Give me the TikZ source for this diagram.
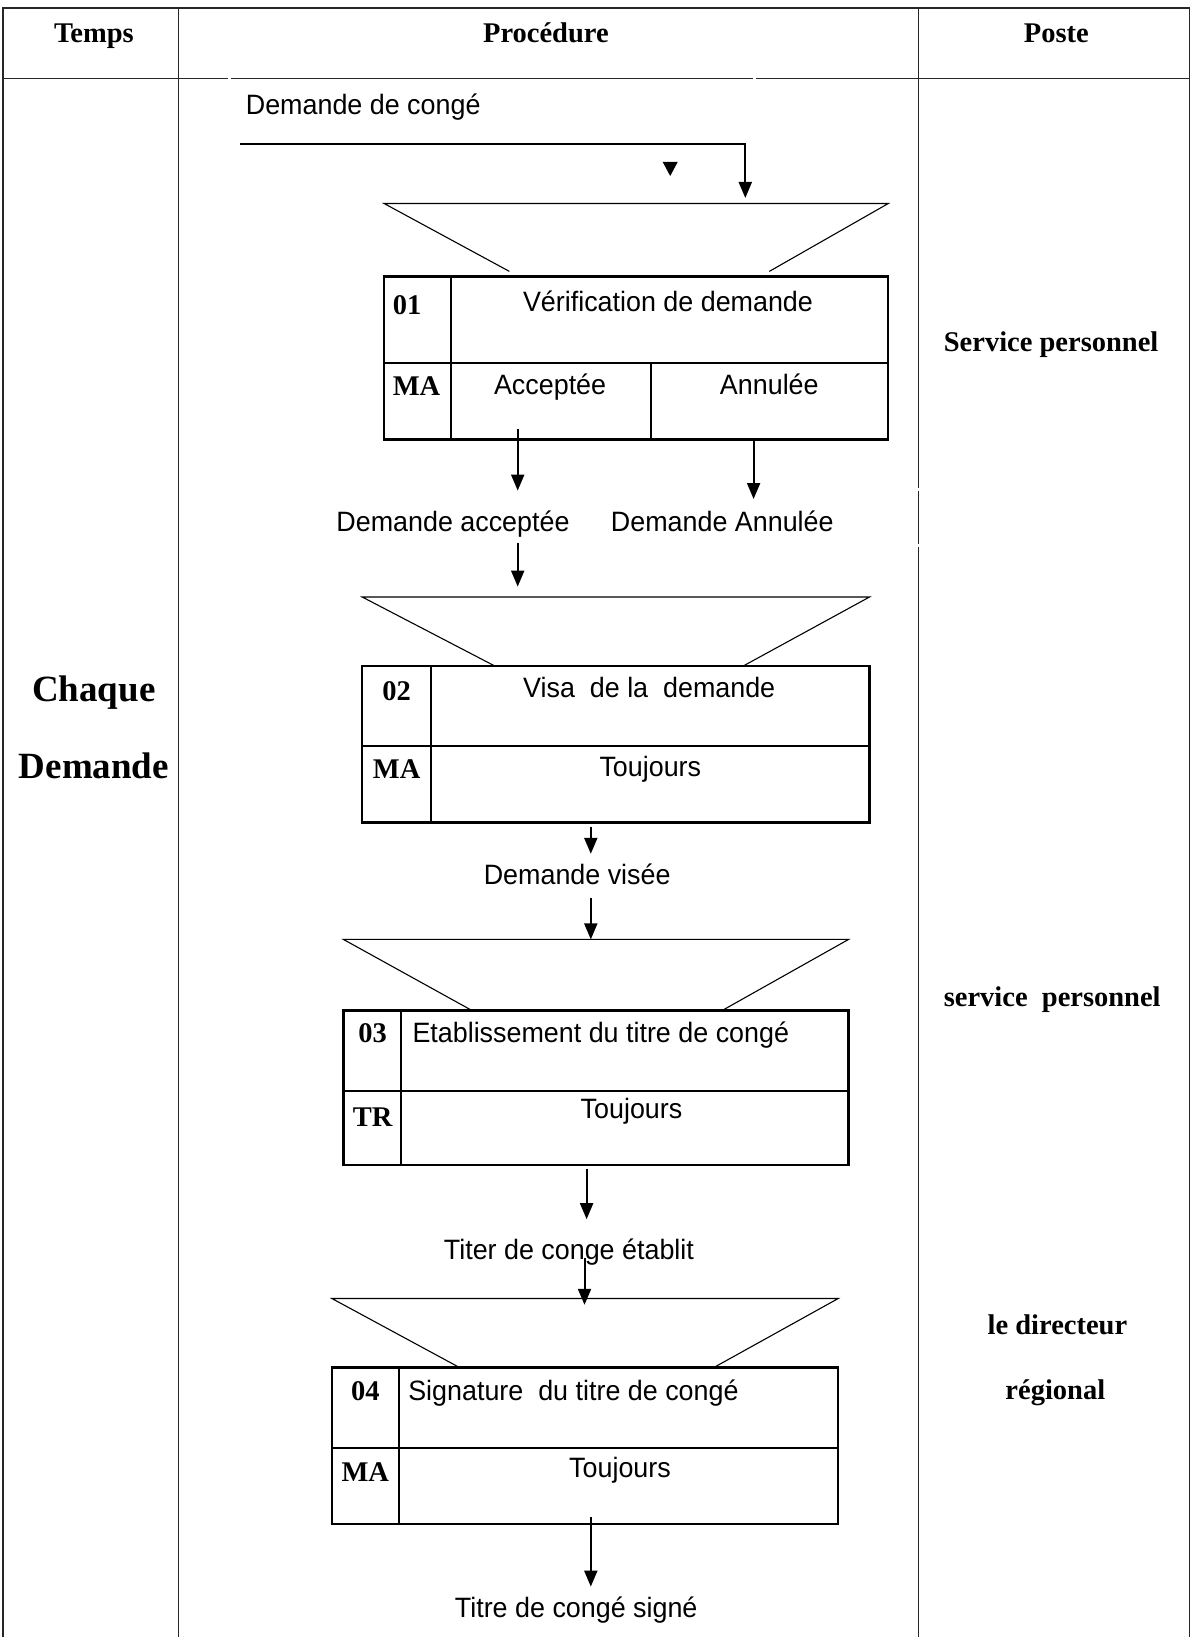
\documentclass[tikz,border=0pt]{standalone}
\usepackage{fontspec}
\setmainfont{Liberation Serif}
\setsansfont{Liberation Sans}[FakeStretch=0.96]
\usetikzlibrary{arrows.meta}

\tikzset{
  hd/.style={font=\fontsize{28.5}{34}\selectfont\bfseries, inner sep=0pt, anchor=base},
  numcell/.style={font=\fontsize{28.5}{34}\selectfont\bfseries, inner sep=0pt},
  big/.style={font=\fontsize{37}{44}\selectfont\bfseries, inner sep=0pt, anchor=base},
  lbl/.style={font=\sffamily\fontsize{28}{33}\selectfont, inner sep=0pt, anchor=base},
  lblw/.style={lbl, anchor=base west},
  frameline/.style={line width=1.9pt, draw=black!85},
  procbox/.style={draw, rectangle, line width=2.3pt, inner sep=0pt, outer sep=0pt},
  cellline/.style={line width=2.3pt},
  funnel/.style={line width=1.1pt},
  arr/.style={line width=2pt, -{Triangle[length=16pt,width=13pt]}}
}

\begin{document}
\begin{tikzpicture}[x=1pt,y=-1pt]
\useasboundingbox (0,0) rectangle (1191,1637);

% ---------- table frame ----------
\draw[frameline] (3,1637) -- (3,8.4) -- (1189.5,8.4) -- (1189.5,1637);
\draw[frameline] (178.5,8.4) -- (178.5,1637);
\draw[frameline] (918.5,8.4) -- (918.5,487.5);
\draw[frameline] (918.5,490.5) -- (918.5,543.5);
\draw[frameline] (918.5,546.5) -- (918.5,1637);
\draw[frameline] (3,78.5) -- (227.5,78.5);
\draw[frameline] (230.5,78.5) -- (752.5,78.5);
\draw[frameline] (755.5,78.5) -- (1189.5,78.5);

% ---------- headers (baselines) ----------
\node[hd] (hTemps) at (93.9,42.8) {Temps};
\node[hd] (hProc)  at (545.9,42.8) {Procédure};
\node[hd] (hPoste) at (1056.3,42.8) {Poste};

% ---------- time column ----------
\node[big] (tChaque)  at (93.9,701) {Chaque};
\node[big] (tDemande) at (93.9,778.3) {Demande};

% ---------- post column ----------
\node[hd] (post1) at (1051.1,351.8) {Service personnel};
\node[hd] (post2) at (1052.2,1006.2) {service\ \ personnel};
\node[hd] (post3) at (1057.4,1334) {le directeur};
\node[hd] (post4) at (1055.3,1399.7) {régional};

% ---------- incoming request ----------
\node[lbl] (inReq) at (363.2,114.4) {Demande de congé};
\coordinate (inStart) at (240,144);
\coordinate (inBend) at (745.3,144);
\coordinate (inEnd) at (745.3,198);
\draw[arr] (inStart) -- (inBend) -- (inEnd);
\fill (662.7,162) -- (677.7,162) -- (670.2,176) -- cycle;

% ---------- operation 01 ----------
\draw[funnel] (509.4,271.4) -- (384.1,203.5) -- (888.3,203.5) -- (769.3,271.4);
\node[procbox, minimum width=504.2pt, minimum height=162.8pt] (op1) at (636.2,358) {};
\draw[cellline] (450.9,276.6) -- (450.9,439.4);
\draw[cellline] (384.1,363.2) -- (888.3,363.2);
\draw[cellline] (651.3,363.2) -- (651.3,439.4);
\node[numcell] (n1) at (407.1,304.8) {01};
\node[lbl] (t1)   at (668,311.7) {Vérification de demande};
\node[numcell] (r1) at (416.5,386.2) {MA};
\node[lbl] (acc)  at (550.1,394.1) {Acceptée};
\node[lbl] (ann)  at (769.3,394.1) {Annulée};

\node[lbl] (outAcc) at (453,531.9) {Demande acceptée};
\node[lbl] (outAnn) at (722.3,531.9) {Demande Annulée};
\coordinate (a1s) at (517.7,429);
\coordinate (a1e) at (517.7,490.6);
\coordinate (a2s) at (753.6,439.4);
\coordinate (a2e) at (753.6,499);
\draw[arr] (a1s) -- (a1e);
\draw[arr] (a2s) -- (a2e);
\coordinate (a3s) at (517.7,542.8);
\coordinate (a3e) at (517.7,586.6);
\draw[arr] (a3s) -- (a3e);

% ---------- operation 02 ----------
\draw[funnel] (494.8,666) -- (362.2,597) -- (869.5,597) -- (743.2,666);
\node[procbox, minimum width=507.3pt, minimum height=156.5pt] (op2) at (615.85,744.25) {};
\draw[cellline] (431.1,666) -- (431.1,822.5);
\draw[cellline] (362.2,746.3) -- (869.5,746.3);
\node[numcell] (n2) at (396.6,691) {02};
\node[lbl] (t2) at (649.2,697.9) {Visa\ \ de la\ \ demande};
\node[numcell] (r2) at (396.6,769.3) {MA};
\node[lbl] (c2) at (650.3,776.1) {Toujours};

\node[lbl] (outVis) at (577.2,884.7) {Demande visée};
\coordinate (b1s) at (590.8,826.7);
\coordinate (b1e) at (590.8,853.8);
\draw[arr] (b1s) -- (b1e);
\coordinate (b2s) at (590.8,897.7);
\coordinate (b2e) at (590.8,939.4);
\draw[arr] (b2s) -- (b2e);

% ---------- operation 03 ----------
\draw[funnel] (471.8,1010.4) -- (343.4,939.4) -- (848.6,939.4) -- (722.3,1010.4);
\node[procbox, minimum width=505.2pt, minimum height=154.5pt] (op3) at (596,1087.65) {};
\draw[cellline] (400.8,1010.4) -- (400.8,1164.9);
\draw[cellline] (343.4,1090.8) -- (848.6,1090.8);
\node[numcell] (n3) at (372.6,1033.4) {03};
\node[lblw] (t3) at (412.3,1042.3) {Etablissement du titre de congé};
\node[numcell] (r3) at (372.6,1116.9) {TR};
\node[lbl] (c3) at (631.5,1118.5) {Toujours};

\node[lbl] (outEtab) at (568.9,1259.4) {Titer de conge établit};
\coordinate (c1s) at (586.6,1169);
\coordinate (c1e) at (586.6,1219.2);
\draw[arr] (c1s) -- (c1e);
\coordinate (c2s) at (584.5,1257.8);
\coordinate (c2e) at (584.5,1304.8);
\draw[arr] (c2s) -- (c2e);

% ---------- operation 04 ----------
\draw[funnel] (459.3,1367.4) -- (331.9,1298.5) -- (838.2,1298.5) -- (714,1367.4);
\node[procbox, minimum width=506.3pt, minimum height=156.6pt] (op4) at (585.05,1445.7) {};
\draw[cellline] (398.7,1367.4) -- (398.7,1524);
\draw[cellline] (331.9,1447.8) -- (838.2,1447.8);
\node[numcell] (n4) at (365.3,1391.4) {04};
\node[lblw] (t4) at (408.1,1400.3) {Signature\ \ du titre de congé};
\node[numcell] (r4) at (365.3,1471.8) {MA};
\node[lbl] (c4) at (620,1477.6) {Toujours};

\node[lbl] (outSig) at (576.2,1617.5) {Titre de congé signé};
\coordinate (d1s) at (590.8,1517);
\coordinate (d1e) at (590.8,1586.6);
\draw[arr] (d1s) -- (d1e);

\end{tikzpicture}
\end{document}
